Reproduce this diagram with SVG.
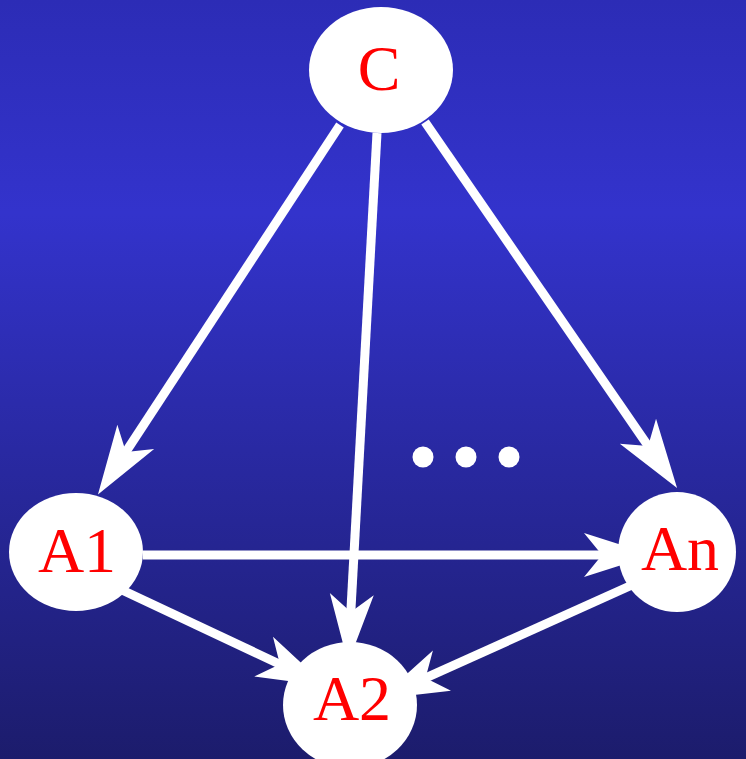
<svg xmlns="http://www.w3.org/2000/svg" width="746" height="759" viewBox="0 0 746 759">
<defs>
<linearGradient id="bg" x1="0" y1="0" x2="0" y2="1">
<stop offset="0" stop-color="#2c2cb6"/>
<stop offset="0.28" stop-color="#3333cc"/>
<stop offset="1" stop-color="#1c1c6c"/>
</linearGradient>
<marker id="arr" markerUnits="userSpaceOnUse" markerWidth="100" markerHeight="60" refX="0" refY="0" viewBox="-30 -30 100 60" orient="auto" overflow="visible">
<path d="M47,0 L-22,-22 L-4,0 L-22,22 Z" fill="#fff"/>
</marker>
<style>
.edge{stroke:#fff;stroke-width:9;fill:none;marker-end:url(#arr)}
.node ellipse{fill:#fff}
.node text{fill:#ff0000;font-family:"Liberation Serif","Times New Roman",serif;font-size:64px;text-anchor:middle}
</style>
</defs>
<rect width="746" height="759" fill="url(#bg)"/>
<g id="connectors">
<line class="edge" x1="340" y1="125" x2="123.7" y2="455.3"/>
<line class="edge" x1="377" y1="133" x2="350.6" y2="616.1"/>
<line class="edge" x1="425" y1="122" x2="650.4" y2="449.3"/>
<line class="edge" x1="143" y1="555" x2="606" y2="555"/>
<line class="edge" x1="122" y1="590" x2="283.5" y2="666"/>
<line class="edge" x1="632" y1="585" x2="421.9" y2="679.7"/>
</g>
<g id="dots" fill="#fff">
<circle cx="423" cy="457" r="10.5"/>
<circle cx="466" cy="457" r="10.5"/>
<circle cx="509" cy="457" r="10.5"/>
</g>
<g id="C" class="node"><ellipse cx="381" cy="70" rx="72" ry="63"/><text x="379" y="90">C</text></g>
<g id="A1" class="node"><ellipse cx="76" cy="552" rx="67" ry="59"/><text x="77" y="572">A1</text></g>
<g id="An" class="node"><ellipse cx="677" cy="552" rx="59" ry="60"/><text x="680" y="570">An</text></g>
<g id="A2" class="node"><ellipse cx="350" cy="705" rx="67" ry="63"/><text x="352" y="720">A2</text></g>
</svg>
